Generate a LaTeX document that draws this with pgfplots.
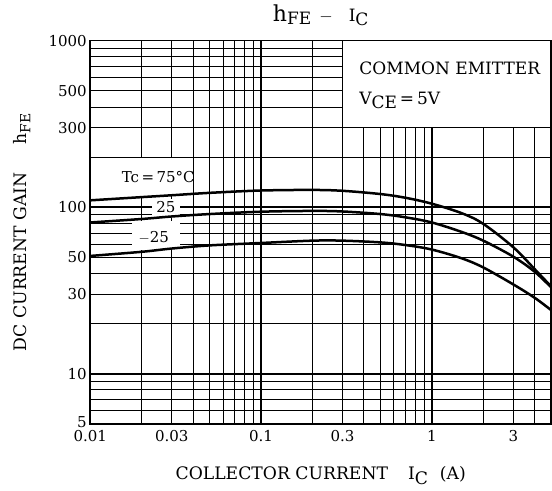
\documentclass[border=0pt]{standalone}
\usepackage{fontspec}
\setmainfont{DejaVu Serif}
\usepackage{pgfplots}
\pgfplotsset{compat=1.18}
\begin{document}
\begin{tikzpicture}
\begin{axis}[
  name=ax,
  xmode=log, ymode=log,
  width=461pt, height=383.3pt, scale only axis,
  xmin=0.01, xmax=5, ymin=5, ymax=1000,
  axis line style={line width=1.6pt},
  clip=false,
  xtick={0.01,0.03,0.1,0.3,1,3},
  xticklabels={0.01,0.03,0.1,0.3,1,3},
  ytick={5,10,30,50,100,300,500,1000},
  yticklabels={\raisebox{3pt}{5},10,30,50,100,300,500,1000},
  minor xtick={0.02,0.03,0.04,0.05,0.06,0.07,0.08,0.09,0.2,0.3,0.4,0.5,0.6,0.7,0.8,0.9,2,3,4},
  minor ytick={6,7,8,9,20,30,40,50,60,70,80,90,200,300,400,500,600,700,800,900},
  xminorgrids=true, yminorgrids=true,
  xmajorgrids=false, ymajorgrids=false,
  minor grid style={black, line width=0.9pt},
  extra x ticks={0.1,1}, extra y ticks={10,100},
  extra tick style={grid=major, major grid style={black, line width=1.5pt}, xticklabel={}, yticklabel={}},
  major tick length=0pt, minor tick length=0pt,
  tick label style={font=\fontsize{15}{15}\selectfont},
  xticklabel style={yshift=-3pt},
  title={{\fontsize{22}{22}\selectfont h}\raisebox{-3pt}{FE}\hspace{8pt}$-$\hspace{16pt}I\raisebox{-4pt}{C}},
  title style={font=\fontsize{17}{17}\selectfont, at={(0.5,1)}, anchor=base, yshift=13.4pt},
  xlabel={COLLECTOR CURRENT\hspace{20pt}I\raisebox{-4.5pt}{C}\hspace{12pt}(A)},
  xlabel style={font=\fontsize{17.2}{18}\selectfont, at={(0.5,0)}, anchor=base, yshift=-56pt},
  ylabel={DC CURRENT GAIN\hspace{28pt}h\raisebox{-4pt}{\fontsize{14}{14}\selectfont FE}},
  ylabel style={font=\fontsize{17.2}{18}\selectfont, at={(-0.1384,0.5)}, anchor=base},
]
% white box top right
\fill[white] (axis cs:0.3,300) rectangle (axis cs:5,1000);
\draw[line width=1.4pt] (axis cs:0.3,1000) -- (axis cs:0.3,300) -- (axis cs:5,300);
% label masks
\fill[white] (rel axis cs:0.097,0.694) rectangle (rel axis cs:0.199,0.5948);
\fill[white] (rel axis cs:0.1332,0.587) rectangle (rel axis cs:0.1946,0.5374);
\fill[white] (rel axis cs:0.0898,0.5296) rectangle (rel axis cs:0.1946,0.454);
% curves
\addplot[black, line width=2.5pt, smooth, tension=0.55] coordinates {
 (0.01,110) (0.02,115) (0.03,118) (0.05,122) (0.1,126) (0.2,127) (0.3,125.5)
 (0.5,120) (0.7,114) (1,105) (1.5,92) (2,79.5) (3,57.5) (4,42.5) (5,33.4)};
\addplot[black, line width=2.5pt, smooth, tension=0.55] coordinates {
 (0.01,81) (0.02,85) (0.03,88) (0.05,91) (0.1,94) (0.2,95) (0.3,94.3)
 (0.5,91) (0.7,87) (1,81) (1.5,71) (2,63) (3,50.5) (4,41) (5,33)};
\addplot[black, line width=2.5pt, smooth, tension=0.55] coordinates {
 (0.01,51) (0.02,54) (0.03,56.5) (0.05,59) (0.1,61) (0.2,63) (0.3,63)
 (0.5,61.5) (0.7,59.3) (1,55.7) (1.5,49.3) (2,43.5) (3,34.4) (4,28.6) (5,24.1)};
% texts
\node[anchor=base west, inner sep=0pt, font=\fontsize{15}{16}\selectfont] at (rel axis cs:0.068,0.6288) {Tc\,=\,75°C};
\node[anchor=base, font=\fontsize{15}{16}\selectfont] at (rel axis cs:0.164,0.5505) {25};
\node[anchor=base, font=\fontsize{15}{16}\selectfont] at (rel axis cs:0.138,0.473) {$-$25};
\node[anchor=base west, inner sep=0pt, font=\fontsize{17}{18}\selectfont] at (rel axis cs:0.5835,0.9105) {COMMON EMITTER};
\node[anchor=base west, inner sep=0pt, font=\fontsize{17}{18}\selectfont] at (rel axis cs:0.5835,0.8322) {V\raisebox{-3.3pt}{CE}\,=\,5V};
% border
\draw[line width=1.6pt] (rel axis cs:0,0) rectangle (rel axis cs:1,1);
\end{axis}
\pgfresetboundingbox
\path[use as bounding box] ([xshift=-90.3pt,yshift=-67pt]ax.south west) rectangle ([xshift=0.8pt,yshift=40.7pt]ax.north east);
\end{tikzpicture}
\end{document}
